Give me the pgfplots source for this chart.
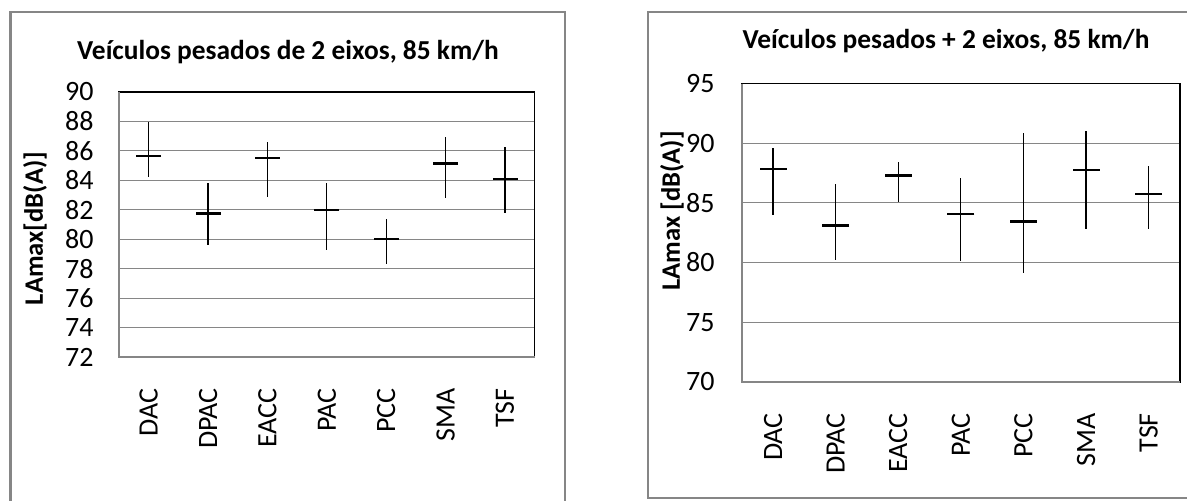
\documentclass[border=0pt]{standalone}
\usepackage{pgfplots}
\pgfplotsset{compat=1.18}
\usepackage{pgfplotstable}
\usepackage{fontspec}
\setmainfont{Carlito}
\definecolor{boxgray}{RGB}{134,134,134}
\definecolor{gridgray}{RGB}{134,134,134}

\pgfplotstableread{
x mean low high
0 85.67 84.25 87.95
1 81.75 79.60 83.80
2 85.50 82.90 86.60
3 82.00 79.30 83.80
4 80.00 78.35 81.40
5 85.15 82.80 86.95
6 84.10 81.75 86.25
}\leftdata

\pgfplotstableread{
x mean low high
0 87.85 83.95 89.60
1 83.10 80.20 86.60
2 87.30 85.10 88.45
3 84.05 80.15 87.05
4 83.45 79.10 90.90
5 87.75 82.85 91.00
6 85.75 82.85 88.10
}\rightdata

\pgfplotsset{
  excel/.style={
    scale only axis,
    xmin=-0.5, xmax=6.5,
    xtick={0,...,6},
    xticklabels={DAC,DPAC,EACC,PAC,PCC,SMA,TSF},
    major tick length=0pt,
    /pgf/number format/assume math mode=true,
    tick label style={font=\fontsize{14}{16}\selectfont, inner sep=0pt},
    xticklabel style={rotate=90, anchor=east},
    xticklabel shift=15.5pt,
    ymajorgrids,
    grid style={gridgray, line width=0.6pt},
    axis line style={black, line width=0.8pt},
    clip=false,
  },
}

\begin{document}
\begin{tikzpicture}
\useasboundingbox (0,0) rectangle (593.5pt,250pt);
\clip (0,0) rectangle (593.5pt,250pt);

% outer chart boxes
\draw[boxgray, line width=1.4pt] (5.25pt,-5pt) -- (5.25pt,244pt) -- (282.5pt,244pt) -- (282.5pt,-5pt);
\draw[boxgray, line width=1.4pt] (610pt,1pt) -- (324pt,1pt) -- (324pt,244pt) -- (610pt,244pt);

% titles
\node[anchor=base, font=\bfseries\fontsize{13.7}{15}\selectfont, inner sep=0pt] at (144pt,220.5pt) {Veículos pesados de 2 eixos, 85 km/h};
\node[anchor=base, font=\bfseries\fontsize{13.7}{15}\selectfont, inner sep=0pt] at (473pt,226pt) {Veículos pesados + 2 eixos, 85 km/h};

% y labels
\node[rotate=90, font=\bfseries\fontsize{13.3}{15}\selectfont, inner sep=0pt] at (17.5pt,135.75pt) {LAmax[dB(A)]};
\node[rotate=90, font=\bfseries\fontsize{13.3}{15}\selectfont, inner sep=0pt] at (336pt,144.5pt) {LAmax [dB(A)]};

\begin{axis}[excel,
  at={(59.5pt,71.5pt)}, anchor=south west,
  width=207.85pt, height=132.5pt,
  ymin=72, ymax=90, ytick={72,74,...,90},
  yticklabel shift=12.5pt,
]
\addplot[black, line width=0.6pt, only marks, mark=-, mark size=6.25pt,
  mark options={line width=1.2pt},
  error bars/.cd, y dir=both, y explicit, error mark=none,
  error bar style={line width=0.6pt, black}]
  table[x=x, y=mean, y error plus expr=\thisrow{high}-\thisrow{mean}, y error minus expr=\thisrow{mean}-\thisrow{low}] {\leftdata};
\draw[boxgray, line width=0.8pt] (rel axis cs:0,1) -- (rel axis cs:0,0) -- (rel axis cs:1,0);
\end{axis}

\begin{axis}[excel,
  at={(370.85pt,59.1pt)}, anchor=south west,
  width=219.15pt, height=149.1pt,
  ymin=70, ymax=95, ytick={70,75,...,95},
  yticklabel shift=13.35pt,
]
\addplot[black, line width=0.6pt, only marks, mark=-, mark size=6.75pt,
  mark options={line width=1.2pt},
  error bars/.cd, y dir=both, y explicit, error mark=none,
  error bar style={line width=0.6pt, black}]
  table[x=x, y=mean, y error plus expr=\thisrow{high}-\thisrow{mean}, y error minus expr=\thisrow{mean}-\thisrow{low}] {\rightdata};
\draw[boxgray, line width=0.8pt] (rel axis cs:0,1) -- (rel axis cs:0,0) -- (rel axis cs:1,0);
\end{axis}
\end{tikzpicture}
\end{document}
